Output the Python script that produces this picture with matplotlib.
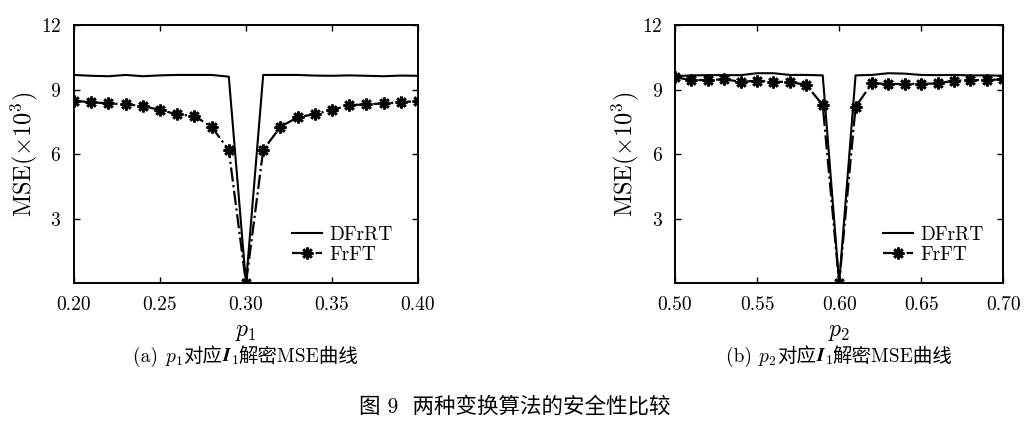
import matplotlib
matplotlib.use("Agg")
import matplotlib.pyplot as plt

plt.rcParams['mathtext.fontset'] = 'cm'
plt.rcParams['axes.formatter.use_mathtext'] = True
plt.rcParams['font.family'] = ['cmr10', 'Noto Sans CJK SC']

# data
p1 = [0.20, 0.21, 0.22, 0.23, 0.24, 0.25, 0.26, 0.27, 0.28, 0.29, 0.30,
      0.31, 0.32, 0.33, 0.34, 0.35, 0.36, 0.37, 0.38, 0.39, 0.40]
dfrrt_a = [9.68, 9.64, 9.62, 9.68, 9.62, 9.66, 9.68, 9.68, 9.68, 9.60, 0.0,
           9.68, 9.68, 9.68, 9.65, 9.64, 9.66, 9.64, 9.62, 9.65, 9.64]
frft_a = [8.48, 8.41, 8.36, 8.31, 8.24, 8.05, 7.85, 7.77, 7.27, 6.19, 0.0,
          6.19, 7.27, 7.71, 7.86, 8.05, 8.28, 8.31, 8.36, 8.41, 8.47]

p2 = [0.50, 0.51, 0.52, 0.53, 0.54, 0.55, 0.56, 0.57, 0.58, 0.59, 0.60,
      0.61, 0.62, 0.63, 0.64, 0.65, 0.66, 0.67, 0.68, 0.69, 0.70]
dfrrt_b = [9.62, 9.66, 9.67, 9.67, 9.67, 9.76, 9.76, 9.68, 9.68, 9.66, 0.0,
           9.66, 9.68, 9.76, 9.74, 9.68, 9.67, 9.68, 9.66, 9.66, 9.64]
frft_b = [9.57, 9.44, 9.44, 9.48, 9.36, 9.41, 9.36, 9.36, 9.21, 8.28, 0.0,
          8.20, 9.29, 9.26, 9.26, 9.26, 9.29, 9.41, 9.44, 9.44, 9.48]

xticks_a = [0.20, 0.25, 0.30, 0.35, 0.40]
xticks_b = [0.50, 0.55, 0.60, 0.65, 0.70]
yticks = [3, 6, 9, 12]

W, H = 1024, 440
fig = plt.figure(figsize=(W / 100, H / 100), dpi=100)
ax1 = fig.add_axes([74 / W, 1 - 283.3 / H, 344 / W, 258.3 / H])
ax2 = fig.add_axes([675 / W, 1 - 283.3 / H, 328.3 / W, 258.3 / H])

bold_i = r'$\mathbfit{I}_1$'
panels = [
    (ax1, p1, dfrrt_a, frft_a, xticks_a, r'$p_1$', '(a) ', r'$p_1$'),
    (ax2, p2, dfrrt_b, frft_b, xticks_b, r'$p_2$', '(b) ', r'$p_2$'),
]

caption_parts = []
for ax, x, d, f, xt, xl, tag, pm in panels:
    ax.plot(x, d, color='black', linewidth=1.5, label='DFrRT')
    ax.plot(x, f, color='black', linewidth=1.6, linestyle='-.',
            marker=(8, 2, 0), markersize=8.5, markeredgewidth=1.9,
            label='FrFT')
    ax.set_xlim(xt[0], xt[-1])
    ax.set_ylim(0, 12)
    ax.set_xticks(xt)
    ax.set_xticklabels(['%.2f' % v for v in xt])
    ax.set_yticks(yticks)
    ax.tick_params(direction='in', top=True, right=True, length=4,
                   width=1, labelsize=14, pad=9)
    for s in ax.spines.values():
        s.set_linewidth(1.4)
    ax.set_ylabel(r'MSE$(\times10^3)$', fontsize=17.5, labelpad=1)
    ax.set_xlabel(xl, fontsize=17, labelpad=5)
    ax.legend(loc='lower left', bbox_to_anchor=(0.635, 0.075),
              frameon=False, fontsize=14, handlelength=1.5,
              handletextpad=0.4, labelspacing=0.1, borderpad=0,
              borderaxespad=0)

    # sub caption, built from pieces so the Chinese text and math mix
    pos = ax.get_position()
    pieces = [tag, pm, '对应', bold_i, '解密MSE曲线']
    texts = [fig.text(0, 1 - 362 / H, p, fontsize=14, va='baseline')
             for p in pieces]
    caption_parts.append(((pos.x0 + pos.x1) / 2, texts))

fig.text(515 / W, 1 - 406 / H, '图 9  两种变换算法的安全性比较', ha='center',
         va='center', fontsize=15.5)

try:
    fig.canvas.draw()
except Exception:
    for xc, texts in caption_parts:
        texts[3].set_text(r'$\mathbf{I}_1$')
    fig.canvas.draw()

renderer = fig.canvas.get_renderer()
for xc, texts in caption_parts:
    widths = [t.get_window_extent(renderer).width for t in texts]
    left = xc * W - sum(widths) / 2
    for t, w in zip(texts, widths):
        t.set_x(left / W)
        left += w

fig.savefig('out.png', dpi=100)
